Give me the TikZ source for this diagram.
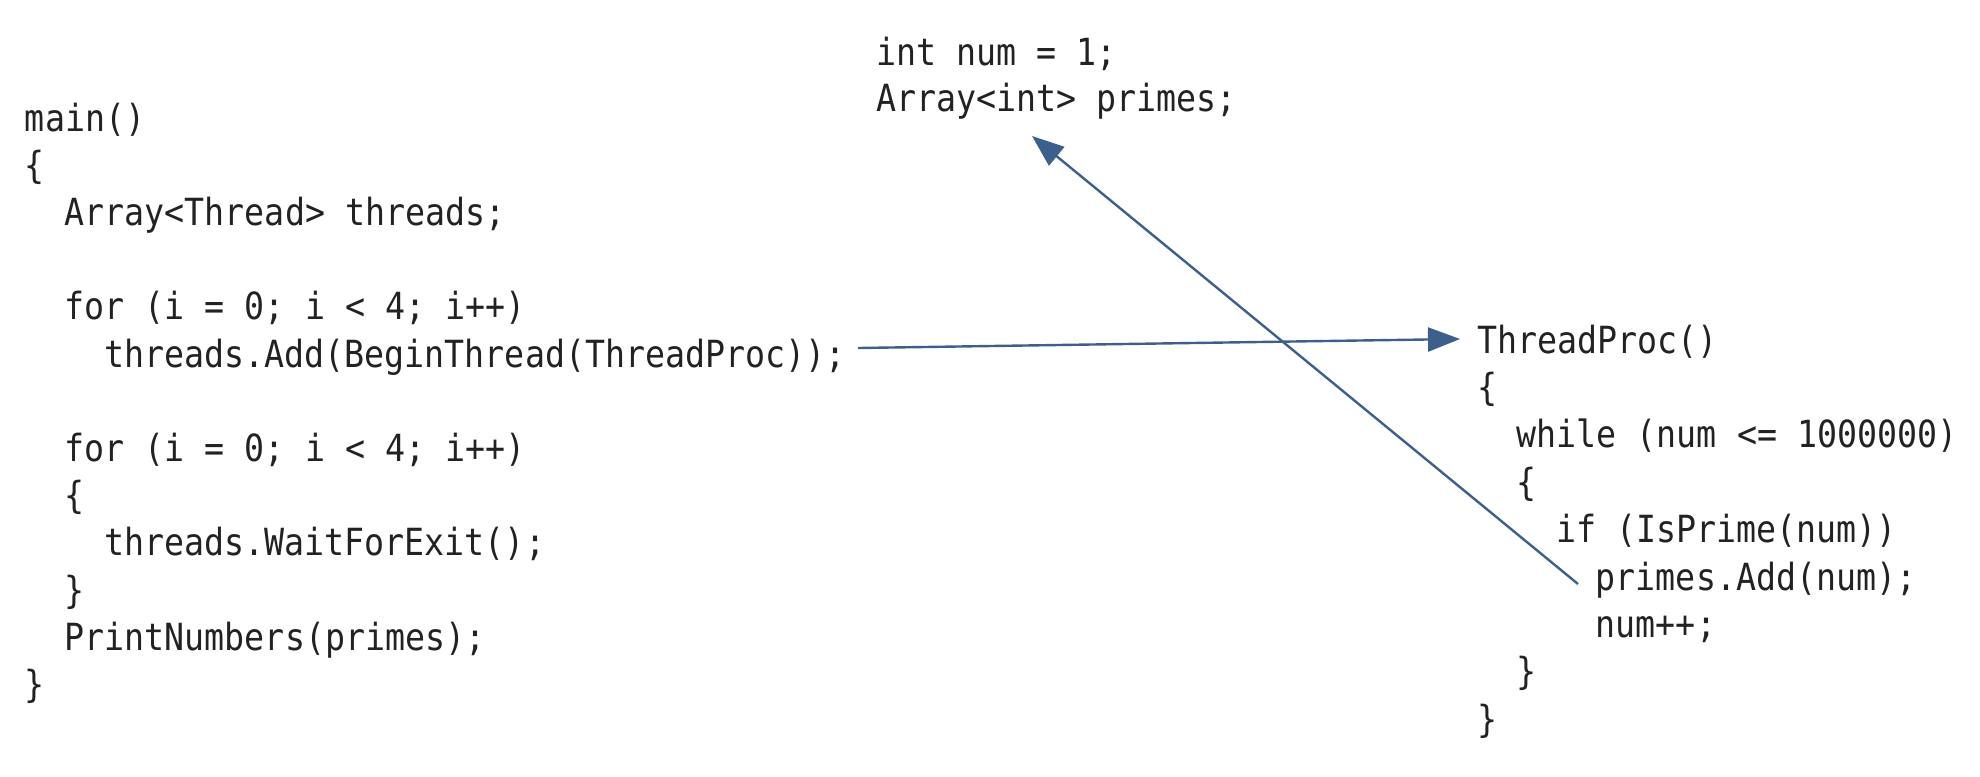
\documentclass[tikz,border=0pt]{standalone}
\usepackage{fontspec}
\usetikzlibrary{arrows.meta}
\newfontfamily\codefont{DejaVu Sans Mono}[FakeStretch=0.89]
\definecolor{arrowblue}{HTML}{3D5F8C}
\definecolor{codegray}{HTML}{222222}
\begin{document}
\begin{tikzpicture}[x=0.5pt,y=-0.5pt,
  code/.style={anchor=base west,inner sep=0pt,outer sep=0pt,text=codegray,
    font=\codefont\fontsize{18.7pt}{23.5pt}\selectfont},
  conn/.style={draw=arrowblue,line width=1.2pt,
    -{Triangle[length=16pt,width=12pt]},arrowblue}]
\useasboundingbox (0,0) rectangle (1980,776);
% left block
\def\cw{19.8}
\node[code] (m0)  at (25,131)              {main()};
\node[code] (m1)  at (25,178.2)            {\{};
\node[code] (m2)  at (25+2*\cw,225.4)      {Array<Thread> threads;};
\node[code] (m4)  at (25+2*\cw,319.8)      {for (i = 0; i < 4; i++)};
\node[code] (m5)  at (25+4*\cw,367)        {threads.Add(BeginThread(ThreadProc));};
\node[code] (m7)  at (25+2*\cw,461.4)      {for (i = 0; i < 4; i++)};
\node[code] (m8)  at (25+2*\cw,508.6)      {\{};
\node[code] (m9)  at (25+4*\cw,555.8)      {threads.WaitForExit();};
\node[code] (m10) at (25+2*\cw,603)        {\}};
\node[code] (m11) at (25+2*\cw,650.2)      {PrintNumbers(primes);};
\node[code] (m12) at (25,697.4)            {\}};
% top block
\node[code] (g0) at (876,65)  {int num = 1;};
\node[code] (g1) at (876,111) {Array<int> primes;};
% right block
\node[code] (t0) at (1477,353)              {ThreadProc()};
\node[code] (t1) at (1477,400.4)            {\{};
\node[code] (t2) at (1477+2*\cw,447.8)      {while (num <= 1000000)};
\node[code] (t3) at (1477+2*\cw,495.2)      {\{};
\node[code] (t4) at (1477+4*\cw,542.6)      {if (IsPrime(num))};
\node[code] (t5) at (1477+6*\cw,590)        {primes.Add(num);};
\node[code] (t6) at (1477+6*\cw,637.4)      {num++;};
\node[code] (t7) at (1477+2*\cw,684.8)      {\}};
\node[code] (t8) at (1477,732.2)            {\}};
% connectors
\coordinate (a1s) at (858,348);
\coordinate (a1e) at (1460,339);
\coordinate (a2s) at (1578,584);
\coordinate (a2e) at (1032,136);
\draw[conn] (a1s) -- (a1e);
\draw[conn] (a2s) -- (a2e);
\end{tikzpicture}
\end{document}
